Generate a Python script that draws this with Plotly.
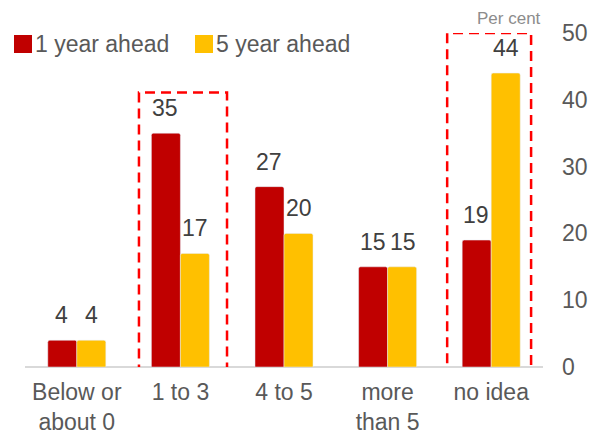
import plotly.graph_objects as go

# Survey: expected inflation ranges, share of respondents (per cent)
categories = ["Below or<br>about 0", "1 to 3", "4 to 5", "more<br>than 5", "no idea"]
one_year = [4, 35, 27, 15, 19]
five_year = [4, 17, 20, 15, 44]
y_ticks = [0, 10, 20, 30, 40, 50]

RED = "#C00000"
GOLD = "#FFC000"
TEXT = "#595959"
LABEL = "#404040"
FONT = "Arial, Liberation Sans, sans-serif"
FS = 23

fig = go.Figure()
fig.add_trace(go.Bar(x=categories, y=one_year, name="1 year ahead",
                     marker=dict(color=RED, cornerradius=2), showlegend=False))
fig.add_trace(go.Bar(x=categories, y=five_year, name="5 year ahead",
                     marker=dict(color=GOLD, cornerradius=2), showlegend=False))

# value labels above each bar
for i, (a, b) in enumerate(zip(one_year, five_year)):
    for val, off in ((a, -0.145), (b, 0.145)):
        fig.add_annotation(x=i + off, y=val, xref="x", yref="y", text=str(val),
                           showarrow=False, yanchor="bottom", yshift=10,
                           font=dict(size=FS, color=LABEL, family=FONT))

# highlight boxes around "1 to 3" and "no idea"
for x0, x1, y0, y1 in ((0.60, 1.45, -2.0, 41.1), (3.575, 4.385, -1.5, 50.0)):
    fig.add_shape(type="rect", xref="x", yref="y", x0=x0, x1=x1, y0=y0, y1=y1,
                  line=dict(color="#FF0000", width=2.5, dash="10px,6px"),
                  fillcolor="rgba(0,0,0,0)", layer="above")

# legend drawn as swatches + text
for px, name, col in ((14, "1 year ahead", RED), (195, "5 year ahead", GOLD)):
    fig.add_shape(type="rect", xref="paper", yref="paper",
                  x0=(px - 25) / 518, x1=(px - 25 + 18) / 518,
                  y0=(367 - 53) / 334, y1=(367 - 35) / 334,
                  line=dict(width=0), fillcolor=col)
    fig.add_annotation(x=(px - 25 + 19) / 518, y=(367 - 44) / 334,
                       xref="paper", yref="paper", text=name, showarrow=False,
                       xanchor="left", yanchor="middle",
                       font=dict(size=FS, color=TEXT, family=FONT))

fig.add_annotation(x=1, y=(367 - 18) / 334, xref="paper", yref="paper",
                   text="Per cent", showarrow=False, xanchor="right",
                   yanchor="middle", font=dict(size=17, color="#8C8C8C", family=FONT))

fig.update_layout(
    width=594, height=446,
    margin=dict(l=25, r=51, t=33, b=79),
    paper_bgcolor="white", plot_bgcolor="white",
    barmode="group", bargap=0.44, bargroupgap=0,
    font=dict(family=FONT, size=FS, color=TEXT),
    xaxis=dict(showgrid=False, showline=False, ticks="", automargin=False,
               ticklabelstandoff=9, tickfont=dict(size=FS, color=TEXT)),
    yaxis=dict(side="right", range=[0, 50], tickvals=y_ticks, automargin=False,
               showgrid=False, zeroline=True, zerolinecolor="#D9D9D9",
               zerolinewidth=1.5, showline=False, ticks="",
               ticklabelstandoff=18, tickfont=dict(size=FS, color=TEXT)),
)

fig.write_html("out.html")
